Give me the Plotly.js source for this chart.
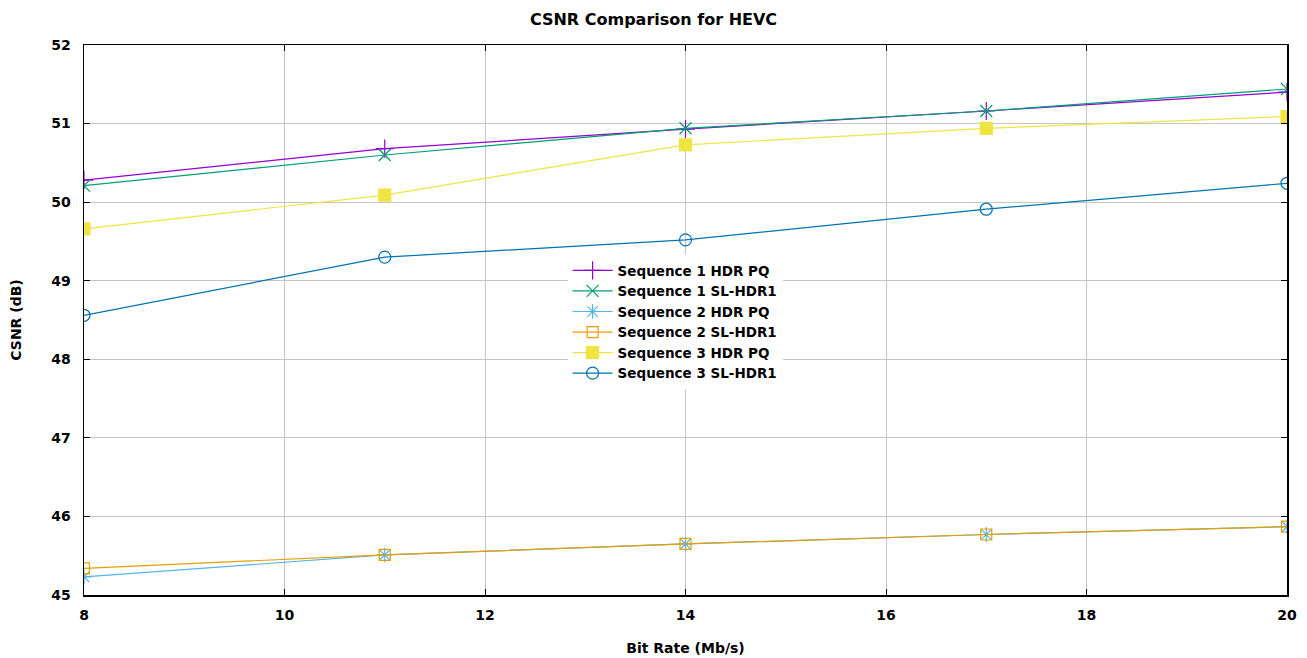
<!DOCTYPE html>
<html>
<head>
<meta charset="utf-8">
<script src="https://cdn.plot.ly/plotly-3.0.1.min.js"></script>
<style>html,body{margin:0;padding:0;background:#fff;}#chart{width:1307px;height:658px;}</style>
</head>
<body>
<div id="chart"></div>
<script>
const bitRates = [8, 11, 14, 17, 20];
const seriesNames = [
  "Sequence 1 HDR PQ",
  "Sequence 1 SL-HDR1",
  "Sequence 2 HDR PQ",
  "Sequence 2 SL-HDR1",
  "Sequence 3 HDR PQ",
  "Sequence 3 SL-HDR1"
];
const seq1HdrPq   = [50.28, 50.68, 50.93, 51.16, 51.40];
const seq1SlHdr1  = [50.21, 50.60, 50.94, 51.16, 51.44];
const seq2HdrPq   = [45.23, 45.51, 45.65, 45.77, 45.87];
const seq2SlHdr1  = [45.34, 45.51, 45.65, 45.77, 45.87];
const seq3HdrPq   = [49.66, 50.09, 50.73, 50.94, 51.09];
const seq3SlHdr1  = [48.56, 49.30, 49.52, 49.91, 50.24];
const seriesValues = [seq1HdrPq, seq1SlHdr1, seq2HdrPq, seq2SlHdr1, seq3HdrPq, seq3SlHdr1];

const colors  = ["#9400d3", "#009e73", "#56b4e9", "#e69f00", "#f0e442", "#0072b2"];
const symbols = ["cross-thin-open", "x-thin-open", "asterisk-open", "square-open", "square", "circle-open"];
const sizes   = [13, 12, 12, 11, 12, 12];

const fontFam = "DejaVu Sans, Verdana, sans-serif";

const traces = seriesNames.map((name, i) => ({
  type: "scatter",
  mode: "lines+markers",
  name: name,
  x: bitRates,
  y: seriesValues[i],
  line: {color: colors[i], width: 1.2},
  marker: {symbol: symbols[i], size: sizes[i], color: colors[i], line: {color: colors[i], width: 1.2}}
}));

const layout = {
  width: 1307,
  height: 658,
  margin: {l: 84, r: 20, t: 45, b: 63},
  paper_bgcolor: "#fff",
  plot_bgcolor: "#fff",
  title: {text: "CSNR Comparison for HEVC", x: 0.5, xanchor: "center", y: 0.971, yanchor: "middle",
          font: {family: fontFam, size: 16, weight: "bold", color: "#000"}},
  xaxis: {
    range: [8, 20], tick0: 8, dtick: 2,
    showgrid: true, gridcolor: "#c4c4c4", gridwidth: 1, zeroline: false,
    showline: true, linecolor: "#000", linewidth: 1.5, mirror: "ticks",
    ticks: "inside", ticklen: 6, tickcolor: "#000",
    ticklabelstandoff: 7,
    tickfont: {family: fontFam, size: 14, weight: "bold", color: "#000"},
    title: {text: "Bit Rate (Mb/s)", standoff: 21, font: {family: fontFam, size: 14, weight: "bold", color: "#000"}}
  },
  yaxis: {
    range: [45, 52], tick0: 45, dtick: 1,
    showgrid: true, gridcolor: "#c4c4c4", gridwidth: 1, zeroline: false,
    showline: true, linecolor: "#000", linewidth: 1.5, mirror: "ticks",
    ticks: "inside", ticklen: 6, tickcolor: "#000",
    ticklabelstandoff: 9,
    tickfont: {family: fontFam, size: 14, weight: "bold", color: "#000"},
    title: {text: "CSNR (dB)", standoff: 26, font: {family: fontFam, size: 14, weight: "bold", color: "#000"}}
  },
  showlegend: true,
  legend: {
    x: 0.402, xanchor: "left", y: 0.618, yanchor: "top",
    bgcolor: "rgba(255,255,255,1)", borderwidth: 0,
    font: {family: fontFam, size: 13.5, weight: "bold", color: "#000"},
    tracegroupgap: 0, itemwidth: 40
  }
};

Plotly.newPlot("chart", traces, layout, {displayModeBar: false, staticPlot: true});
</script>
</body>
</html>
